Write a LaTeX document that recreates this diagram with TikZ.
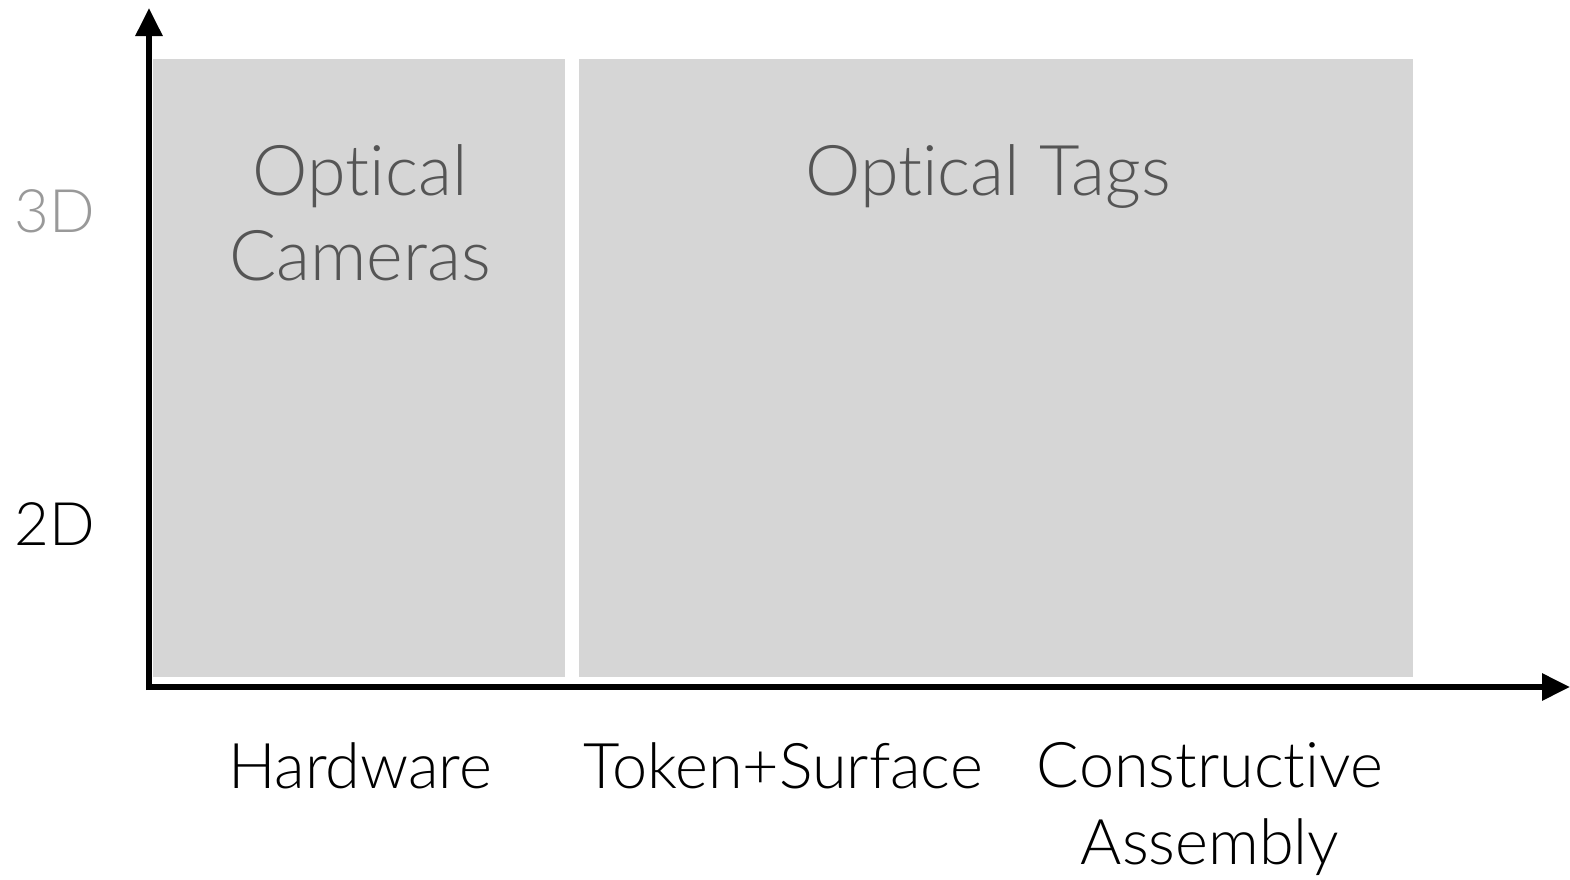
\documentclass[tikz,border=0pt]{standalone}
\usepackage{fontspec}
\setmainfont{Lato Light}[Ligatures={NoCommon}]
\usetikzlibrary{arrows.meta}
\definecolor{boxgray}{HTML}{D6D6D6}
\definecolor{labgray}{HTML}{999999}
\definecolor{txtgray}{HTML}{555555}
\tikzset{
  axis/.style={line width=3pt, -{Triangle[width=13pt,length=14pt]}},
  region/.style={fill=boxgray, draw=none},
  big/.style={font=\fontsize{35}{42.5}\selectfont, text=txtgray, align=center, inner sep=0pt, anchor=base},
  ylab/.style={font=\fontsize{30}{34}\selectfont, inner sep=0pt},
  xlab/.style={font=\fontsize{31.5}{38.5}\selectfont, align=center, inner sep=0pt, anchor=base}
}
\begin{document}
\begin{tikzpicture}[x=0.5pt,y=-0.5pt]
\useasboundingbox (0,0) rectangle (1570,879);
\fill[region] (153,59) rectangle (565,677);
\fill[region] (579,59) rectangle (1413,677);
\coordinate (o) at (149,687);
\coordinate (ytop) at (149,8);
\coordinate (xend) at (1570,687);
\draw[axis] ([yshift=-1.5pt]o) -- (ytop);
\draw[axis] ([xshift=-1.5pt]o) -- (xend);
\node[big] (oc) at (360,280) {Optical\\Cameras};
\node[big] (ot) at (988,195) {Optical Tags};
\node[ylab, text=labgray] (l3) at (55,211) {3D};
\node[ylab] (l2) at (55,524) {2D};
\node[xlab] (hw) at (360,788) {Hardware};
\node[xlab] (ts) at (783,788) {Token+Surface};
\node[xlab] (ca) at (1210,864) {Constructive\\Assembly};
\end{tikzpicture}
\end{document}
